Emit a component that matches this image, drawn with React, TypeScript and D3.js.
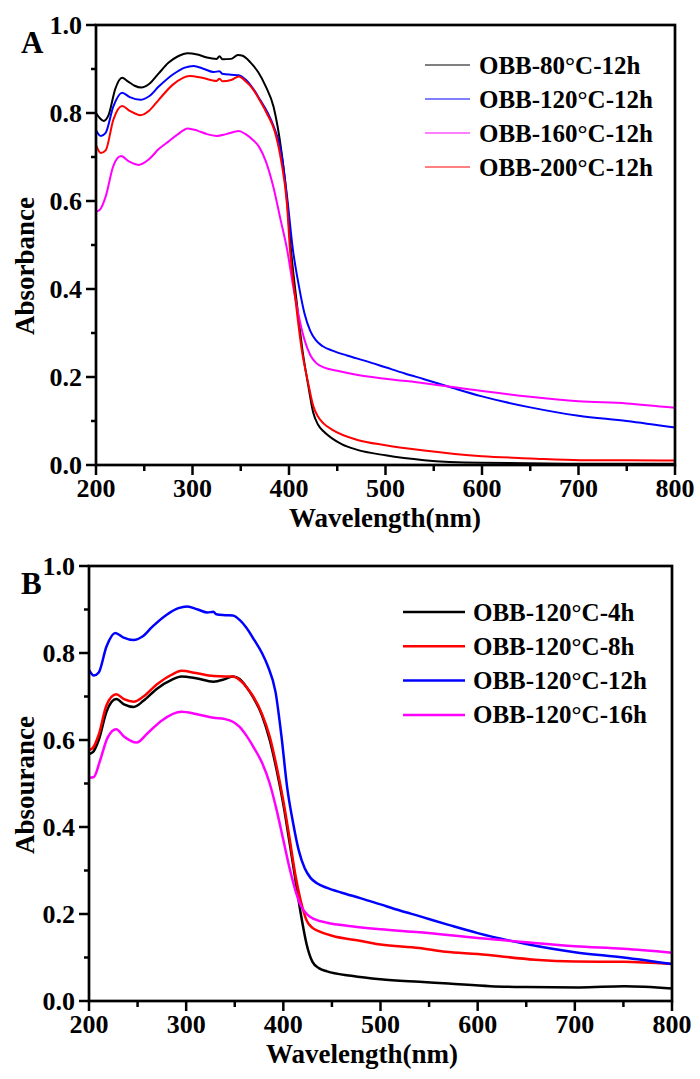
import React from "react";
import * as d3 from "d3";

type Pt = [number, number];

// axis ticks
const wavelengthTicks = [200, 300, 400, 500, 600, 700, 800];
const wavelengthMinor = [250, 350, 450, 550, 650, 750];
const absorbanceTicks = [0, 0.2, 0.4, 0.6, 0.8, 1.0];
const absorbanceMinor = [0.1, 0.3, 0.5, 0.7, 0.9];

// panel A: temperature series, 12h  [wavelength nm, absorbance]
const obb80c12h: Pt[] = [
  [200, 0.8], [204, 0.788], [208, 0.782], [213, 0.795], [220, 0.855], [227, 0.88],
  [233, 0.872], [240, 0.862], [247, 0.858], [255, 0.866], [265, 0.89], [275, 0.914],
  [285, 0.929], [295, 0.936], [305, 0.933], [315, 0.926], [325, 0.923], [328, 0.929],
  [331, 0.922], [340, 0.923], [347, 0.932], [352, 0.93], [360, 0.915], [368, 0.893],
  [376, 0.86], [384, 0.814], [392, 0.715], [398, 0.6], [402, 0.49], [408, 0.37],
  [414, 0.26], [420, 0.18], [425, 0.12], [430, 0.092], [436, 0.076], [445, 0.06],
  [455, 0.047], [470, 0.035], [500, 0.022], [540, 0.011], [600, 0.005], [700, 0.003],
  [800, 0.003],
];

const obb120c12h: Pt[] = [
  [200, 0.761], [205, 0.748], [210, 0.755], [218, 0.815], [227, 0.846], [235, 0.836],
  [246, 0.83], [255, 0.838], [265, 0.86], [280, 0.888], [292, 0.903], [301, 0.907],
  [312, 0.9], [322, 0.893], [328, 0.895], [331, 0.889], [340, 0.887], [348, 0.886],
  [355, 0.876], [362, 0.858], [370, 0.83], [378, 0.8], [384, 0.77], [392, 0.71],
  [398, 0.61], [404, 0.49], [410, 0.41], [416, 0.345], [422, 0.305], [428, 0.283],
  [435, 0.27], [445, 0.26], [460, 0.249], [480, 0.236], [500, 0.222], [520, 0.208],
  [540, 0.195], [570, 0.175], [600, 0.156], [650, 0.131], [700, 0.112], [750, 0.1],
  [800, 0.085],
];

const obb160c12h: Pt[] = [
  [200, 0.576], [204, 0.58], [210, 0.61], [218, 0.68], [226, 0.702], [234, 0.69],
  [244, 0.682], [255, 0.695], [265, 0.718], [275, 0.735], [285, 0.752], [295, 0.765],
  [305, 0.76], [315, 0.752], [325, 0.748], [335, 0.752], [348, 0.759], [355, 0.752],
  [362, 0.74], [369, 0.723], [376, 0.69], [384, 0.63], [391, 0.56], [398, 0.49],
  [404, 0.41], [410, 0.34], [416, 0.285], [422, 0.25], [428, 0.232], [436, 0.222],
  [450, 0.214], [470, 0.205], [500, 0.196], [540, 0.186], [600, 0.168], [650, 0.155],
  [700, 0.145], [750, 0.14], [800, 0.13],
];

const obb200c12h: Pt[] = [
  [200, 0.727], [205, 0.709], [210, 0.715], [218, 0.785], [227, 0.816], [235, 0.805],
  [246, 0.795], [255, 0.805], [265, 0.83], [280, 0.865], [297, 0.884], [310, 0.88],
  [325, 0.873], [328, 0.878], [331, 0.872], [340, 0.875], [348, 0.883], [355, 0.872],
  [362, 0.856], [370, 0.828], [378, 0.795], [385, 0.76], [392, 0.69], [398, 0.59],
  [401, 0.49], [407, 0.37], [413, 0.265], [420, 0.185], [425, 0.135], [430, 0.11],
  [436, 0.094], [445, 0.08], [471, 0.057], [500, 0.045], [540, 0.033], [600, 0.02],
  [650, 0.015], [702, 0.011], [750, 0.011], [800, 0.01],
];

// panel B: time series, 120°C
const obb120c4h: Pt[] = [
  [200, 0.568], [204, 0.572], [210, 0.6], [218, 0.665], [228, 0.694], [236, 0.682],
  [246, 0.676], [256, 0.69], [270, 0.718], [285, 0.738], [295, 0.746], [310, 0.742],
  [328, 0.734], [340, 0.74], [348, 0.746], [355, 0.74], [362, 0.722], [369, 0.698],
  [378, 0.657], [386, 0.6], [393, 0.532], [400, 0.452], [406, 0.37], [412, 0.285],
  [418, 0.2], [424, 0.13], [430, 0.09], [437, 0.075], [445, 0.068], [470, 0.058],
  [500, 0.05], [540, 0.044], [570, 0.04], [613, 0.034], [650, 0.032], [705, 0.031],
  [751, 0.034], [800, 0.029],
];

const obb120c8h: Pt[] = [
  [200, 0.577], [204, 0.582], [210, 0.612], [218, 0.68], [228, 0.705], [236, 0.694],
  [246, 0.688], [256, 0.7], [270, 0.728], [285, 0.75], [295, 0.759], [310, 0.754],
  [328, 0.747], [340, 0.746], [348, 0.746], [355, 0.738], [362, 0.722], [369, 0.7],
  [378, 0.66], [386, 0.608], [393, 0.54], [400, 0.46], [406, 0.38], [412, 0.295],
  [418, 0.23], [424, 0.185], [430, 0.168], [437, 0.16], [450, 0.15], [480, 0.138],
  [500, 0.13], [540, 0.122], [567, 0.113], [600, 0.108], [659, 0.095], [700, 0.091],
  [750, 0.09], [800, 0.085],
];

const obb120c16h: Pt[] = [
  [200, 0.513], [205, 0.515], [211, 0.55], [219, 0.605], [228, 0.625], [236, 0.608],
  [249, 0.594], [260, 0.615], [275, 0.645], [295, 0.665], [310, 0.66], [328, 0.651],
  [340, 0.648], [348, 0.642], [355, 0.63], [362, 0.61], [369, 0.585], [378, 0.548],
  [386, 0.5], [393, 0.44], [400, 0.37], [407, 0.3], [413, 0.25], [419, 0.215],
  [425, 0.198], [432, 0.188], [445, 0.18], [470, 0.172], [500, 0.165], [540, 0.158],
  [600, 0.145], [650, 0.135], [700, 0.126], [750, 0.12], [800, 0.111],
];

type Series = { name: string; color: string; data: Pt[] };

const seriesA: Series[] = [
  { name: "OBB-80°C-12h", color: "#000000", data: obb80c12h },
  { name: "OBB-120°C-12h", color: "#0000ff", data: obb120c12h },
  { name: "OBB-160°C-12h", color: "#ff00ff", data: obb160c12h },
  { name: "OBB-200°C-12h", color: "#ff0000", data: obb200c12h },
];

const seriesB: Series[] = [
  { name: "OBB-120°C-4h", color: "#000000", data: obb120c4h },
  { name: "OBB-120°C-8h", color: "#ff0000", data: obb120c8h },
  { name: "OBB-120°C-12h", color: "#0000ff", data: obb120c12h },
  { name: "OBB-120°C-16h", color: "#ff00ff", data: obb120c16h },
];

const FONT = "'Liberation Serif', 'Times New Roman', serif";

type PanelProps = {
  box: { left: number; right: number; top: number; bottom: number };
  series: Series[];
  letter: string;
  yTitle: string;
  yTitleY: number;
  xTitleX: number;
  lineWidth: number;
  legend: { x1: number; x2: number; tx: number; y0: number; dy: number; width: number };
};

function Panel({ box, series, letter, yTitle, yTitleY, xTitleX, lineWidth, legend }: PanelProps) {
  const x = d3.scaleLinear().domain([200, 800]).range([box.left, box.right]);
  const y = d3.scaleLinear().domain([0, 1]).range([box.bottom, box.top]);
  const line = d3
    .line<Pt>()
    .x((d) => x(d[0]))
    .y((d) => y(d[1]))
    .curve(d3.curveMonotoneX);

  return (
    <g fontFamily={FONT} fontWeight="bold">
      {series.map((s) => (
        <path key={s.name} d={line(s.data) || ""} fill="none" stroke={s.color} strokeWidth={lineWidth} />
      ))}

      <rect
        x={box.left}
        y={box.top}
        width={box.right - box.left}
        height={box.bottom - box.top}
        fill="none"
        stroke="#000"
        strokeWidth={2.7}
      />

      {absorbanceTicks.map((t) => (
        <g key={"y" + t}>
          <line x1={box.left - 10} x2={box.left} y1={y(t)} y2={y(t)} stroke="#000" strokeWidth={2.5} />
          <text x={box.left - 14} y={y(t) + 9} textAnchor="end" fontSize={26}>
            {t.toFixed(1)}
          </text>
        </g>
      ))}
      {absorbanceMinor.map((t) => (
        <line key={"ym" + t} x1={box.left - 5} x2={box.left} y1={y(t)} y2={y(t)} stroke="#000" strokeWidth={2.5} />
      ))}

      {wavelengthTicks.map((t) => (
        <g key={"x" + t}>
          <line x1={x(t)} x2={x(t)} y1={box.bottom} y2={box.bottom + 10} stroke="#000" strokeWidth={2.5} />
          <text x={x(t)} y={box.bottom + 32} textAnchor="middle" fontSize={26}>
            {t}
          </text>
        </g>
      ))}
      {wavelengthMinor.map((t) => (
        <line key={"xm" + t} x1={x(t)} x2={x(t)} y1={box.bottom} y2={box.bottom + 6} stroke="#000" strokeWidth={2.5} />
      ))}

      <text x={xTitleX} y={box.bottom + 62} textAnchor="middle" fontSize={27}>
        Wavelength(nm)
      </text>
      <text transform={`translate(34, ${yTitleY}) rotate(-90)`} textAnchor="middle" fontSize={27}>
        {yTitle}
      </text>
      <text x={21} y={box.top + 28} fontSize={31}>
        {letter}
      </text>

      {series.map((s, i) => {
        const cy = legend.y0 + i * legend.dy;
        return (
          <g key={"lg" + s.name}>
            <line x1={legend.x1} x2={legend.x2} y1={cy} y2={cy} stroke={s.color} strokeWidth={legend.width} />
            <text x={legend.tx} y={cy + 8.5} fontSize={25}>
              {s.name}
            </text>
          </g>
        );
      })}
    </g>
  );
}

export default function App() {
  return (
    <svg
      width={700}
      height={1079}
      style={{ position: "absolute", left: 0, top: 0, background: "#fff" }}
    >
      <Panel
        box={{ left: 96, right: 675, top: 25, bottom: 465 }}
        series={seriesA}
        letter="A"
        yTitle="Absorbance"
        yTitleY={266}
        xTitleX={385}
        lineWidth={2}
        legend={{ x1: 425, x2: 470, tx: 479, y0: 65, dy: 34, width: 1 }}
      />
      <Panel
        box={{ left: 89, right: 672, top: 566, bottom: 1001 }}
        series={seriesB}
        letter="B"
        yTitle="Absourance"
        yTitleY={785}
        xTitleX={362}
        lineWidth={2.5}
        legend={{ x1: 403, x2: 465, tx: 473, y0: 612, dy: 34.3, width: 2.5 }}
      />
    </svg>
  );
}
